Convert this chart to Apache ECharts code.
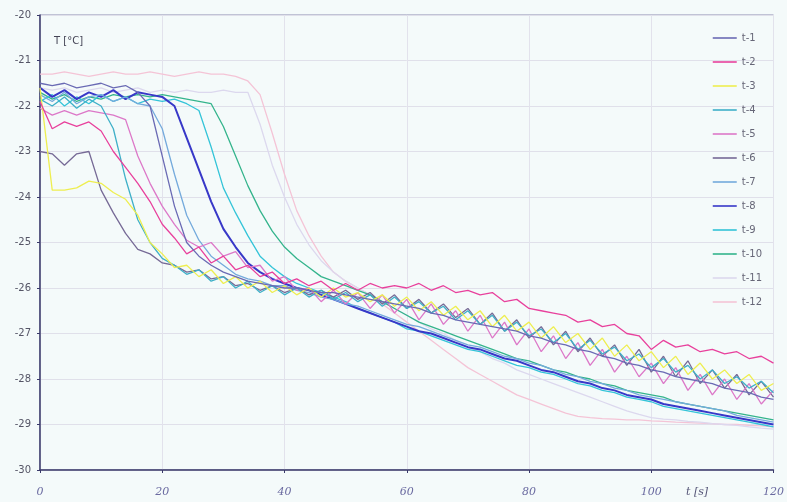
<!DOCTYPE html>
<html>
<head>
<meta charset="utf-8">
<script src="https://cdn.jsdelivr.net/npm/echarts/dist/echarts.min.js"></script>
<style>html,body{margin:0;padding:0;background:#f4fafa;}#c{width:787px;height:502px;}</style>
</head>
<body>
<div id="c"></div>
<script>
// time axis (s)
var time = [];
for (var k = 0; k <= 120; k += 2) time.push(k);

var seriesNames = ['t-1','t-2','t-3','t-4','t-5','t-6','t-7','t-8','t-9','t-10','t-11','t-12'];
var xTicks = [0, 20, 40, 60, 80, 100, 120];
var yTicks = [-30, -29, -28, -27, -26, -25, -24, -23, -22, -21, -20];

var t1 = [-21.5,-21.55,-21.5,-21.6,-21.55,-21.5,-21.6,-21.55,-21.7,-22.0,-23.1,-24.2,-25.0,-25.3,-25.5,-25.65,-25.75,-25.85,-25.9,-25.95,-26.0,-26.0,-26.05,-26.1,-26.1,-26.15,-26.2,-26.25,-26.3,-26.35,-26.4,-26.45,-26.55,-26.6,-26.7,-26.75,-26.8,-26.85,-26.9,-26.95,-27.05,-27.1,-27.2,-27.25,-27.35,-27.4,-27.5,-27.55,-27.65,-27.7,-27.8,-27.85,-27.95,-28.0,-28.05,-28.1,-28.2,-28.25,-28.3,-28.4,-28.45];
var t2 = [-21.9,-22.5,-22.35,-22.45,-22.35,-22.55,-23.0,-23.35,-23.7,-24.1,-24.6,-24.9,-25.25,-25.1,-25.45,-25.3,-25.6,-25.5,-25.75,-25.65,-25.9,-25.8,-25.95,-25.85,-26.05,-25.9,-26.05,-25.9,-26.0,-25.95,-26.0,-25.9,-26.05,-25.95,-26.1,-26.05,-26.15,-26.1,-26.3,-26.25,-26.45,-26.5,-26.55,-26.6,-26.75,-26.7,-26.85,-26.8,-27.0,-27.05,-27.35,-27.15,-27.3,-27.25,-27.4,-27.35,-27.45,-27.4,-27.55,-27.5,-27.65];
var t3 = [-21.6,-23.85,-23.85,-23.8,-23.65,-23.7,-23.9,-24.05,-24.4,-25.0,-25.25,-25.55,-25.5,-25.75,-25.6,-25.9,-25.75,-26.0,-25.85,-26.1,-25.95,-26.15,-26.0,-26.2,-26.0,-26.2,-26.1,-26.3,-26.15,-26.4,-26.2,-26.5,-26.3,-26.6,-26.4,-26.7,-26.5,-26.85,-26.6,-26.95,-26.75,-27.1,-26.85,-27.2,-27.0,-27.35,-27.1,-27.5,-27.25,-27.6,-27.4,-27.75,-27.5,-27.9,-27.65,-28.0,-27.8,-28.1,-27.9,-28.25,-28.1];
var t4 = [-21.85,-22.0,-21.8,-22.05,-21.85,-22.0,-22.5,-23.6,-24.5,-25.0,-25.35,-25.5,-25.7,-25.6,-25.85,-25.75,-26.0,-25.85,-26.1,-25.95,-26.15,-26.0,-26.2,-26.05,-26.25,-26.1,-26.3,-26.15,-26.4,-26.2,-26.45,-26.3,-26.55,-26.4,-26.7,-26.5,-26.8,-26.6,-26.95,-26.75,-27.05,-26.9,-27.2,-27.0,-27.35,-27.15,-27.45,-27.3,-27.6,-27.45,-27.75,-27.55,-27.85,-27.7,-28.0,-27.8,-28.1,-27.95,-28.2,-28.05,-28.3];
var t5 = [-22.05,-22.2,-22.1,-22.2,-22.1,-22.15,-22.2,-22.3,-23.1,-23.7,-24.2,-24.6,-24.95,-25.1,-25.0,-25.3,-25.2,-25.55,-25.5,-25.85,-25.75,-26.05,-26.0,-26.3,-26.05,-26.35,-26.1,-26.45,-26.15,-26.55,-26.25,-26.7,-26.35,-26.8,-26.5,-26.95,-26.6,-27.1,-26.75,-27.25,-26.9,-27.4,-27.05,-27.55,-27.2,-27.7,-27.35,-27.85,-27.5,-27.95,-27.65,-28.1,-27.75,-28.25,-27.9,-28.35,-28.0,-28.45,-28.1,-28.55,-28.25];
var t6 = [-23.0,-23.05,-23.3,-23.05,-23.0,-23.85,-24.35,-24.8,-25.15,-25.25,-25.45,-25.5,-25.65,-25.6,-25.8,-25.75,-25.95,-25.9,-26.05,-25.95,-26.1,-26.0,-26.15,-26.05,-26.2,-26.05,-26.25,-26.1,-26.35,-26.15,-26.45,-26.25,-26.55,-26.35,-26.65,-26.45,-26.8,-26.55,-26.95,-26.7,-27.1,-26.85,-27.25,-26.95,-27.4,-27.1,-27.5,-27.25,-27.7,-27.35,-27.85,-27.5,-27.95,-27.6,-28.1,-27.8,-28.2,-27.9,-28.35,-28.05,-28.4];
var t7 = [-21.75,-21.9,-21.7,-21.95,-21.8,-21.75,-21.9,-21.8,-21.95,-22.0,-22.5,-23.5,-24.4,-24.95,-25.3,-25.5,-25.7,-25.8,-25.85,-25.95,-25.95,-26.05,-26.1,-26.2,-26.25,-26.35,-26.4,-26.5,-26.6,-26.7,-26.8,-26.85,-26.95,-27.05,-27.15,-27.25,-27.3,-27.4,-27.5,-27.55,-27.65,-27.7,-27.8,-27.9,-27.95,-28.05,-28.1,-28.2,-28.25,-28.35,-28.4,-28.45,-28.5,-28.55,-28.6,-28.65,-28.7,-28.8,-28.85,-28.9,-28.95];
var t8 = [-21.6,-21.8,-21.65,-21.85,-21.7,-21.8,-21.65,-21.85,-21.7,-21.75,-21.8,-22.0,-22.7,-23.4,-24.1,-24.7,-25.1,-25.45,-25.65,-25.8,-25.9,-26.0,-26.05,-26.15,-26.25,-26.35,-26.45,-26.55,-26.65,-26.75,-26.85,-26.95,-27.0,-27.1,-27.2,-27.3,-27.35,-27.45,-27.55,-27.6,-27.7,-27.8,-27.85,-27.95,-28.05,-28.1,-28.2,-28.25,-28.35,-28.4,-28.45,-28.55,-28.6,-28.65,-28.7,-28.75,-28.8,-28.85,-28.9,-28.95,-29.0];
var t9 = [-21.9,-21.75,-22.0,-21.8,-21.95,-21.75,-21.9,-21.8,-21.95,-21.85,-21.9,-21.85,-21.95,-22.1,-22.9,-23.8,-24.35,-24.85,-25.3,-25.55,-25.75,-25.9,-26.0,-26.1,-26.2,-26.3,-26.45,-26.55,-26.65,-26.75,-26.9,-26.95,-27.05,-27.15,-27.25,-27.35,-27.4,-27.5,-27.6,-27.7,-27.75,-27.85,-27.9,-28.0,-28.1,-28.15,-28.25,-28.3,-28.4,-28.45,-28.5,-28.6,-28.65,-28.7,-28.75,-28.8,-28.85,-28.9,-28.95,-29.0,-29.05];
var t10 = [-21.7,-21.85,-21.75,-21.9,-21.8,-21.85,-21.75,-21.8,-21.75,-21.8,-21.75,-21.8,-21.85,-21.9,-21.95,-22.45,-23.1,-23.75,-24.3,-24.75,-25.1,-25.35,-25.55,-25.75,-25.85,-25.95,-26.05,-26.15,-26.3,-26.45,-26.6,-26.75,-26.85,-26.95,-27.05,-27.15,-27.25,-27.35,-27.45,-27.55,-27.6,-27.7,-27.8,-27.85,-27.95,-28.0,-28.1,-28.15,-28.25,-28.3,-28.35,-28.4,-28.5,-28.55,-28.6,-28.65,-28.7,-28.75,-28.8,-28.85,-28.9];
var t11 = [-21.6,-21.65,-21.6,-21.7,-21.65,-21.6,-21.7,-21.65,-21.6,-21.7,-21.65,-21.7,-21.65,-21.7,-21.7,-21.65,-21.7,-21.7,-22.4,-23.3,-24.0,-24.6,-25.05,-25.4,-25.65,-25.85,-26.0,-26.15,-26.3,-26.45,-26.6,-26.75,-26.9,-27.0,-27.15,-27.3,-27.4,-27.55,-27.65,-27.8,-27.9,-28.0,-28.1,-28.2,-28.3,-28.4,-28.5,-28.6,-28.7,-28.78,-28.85,-28.88,-28.9,-28.93,-28.95,-28.98,-29.0,-29.02,-29.05,-29.08,-29.1];
var t12 = [-21.3,-21.3,-21.25,-21.3,-21.35,-21.3,-21.25,-21.3,-21.3,-21.25,-21.3,-21.35,-21.3,-21.25,-21.3,-21.3,-21.35,-21.45,-21.75,-22.6,-23.5,-24.3,-24.85,-25.3,-25.65,-25.85,-26.0,-26.15,-26.35,-26.55,-26.75,-26.95,-27.15,-27.35,-27.55,-27.75,-27.9,-28.05,-28.2,-28.35,-28.45,-28.55,-28.65,-28.75,-28.82,-28.85,-28.87,-28.88,-28.9,-28.9,-28.92,-28.93,-28.95,-28.96,-28.97,-28.98,-29.0,-29.0,-29.02,-29.03,-29.05];

var values = [t1,t2,t3,t4,t5,t6,t7,t8,t9,t10,t11,t12];
var colors = ['#6a6ab4','#e8409c','#eeee50','#3fb0c8','#dc78c8','#766a96','#74aadc','#3838c8','#34c4d8','#34b48c','#dcd8ee','#f4c4d6'];
var widths = [1.3,1.3,1.3,1.3,1.3,1.3,1.3,2,1.3,1.3,1.3,1.3];

var chart = echarts.init(document.getElementById('c'));
var series = seriesNames.map(function(n, si){
  return {
    name: n, type: 'line', symbol: 'none', smooth: false,
    lineStyle: {color: colors[si], width: widths[si]},
    itemStyle: {color: colors[si]},
    data: time.map(function(t, i){ return [t, values[si][i]]; }),
    z: 2 + (11 - si)
  };
});

chart.setOption({
  backgroundColor: '#f4fafa',
  animation: false,
  grid: {left: 40, right: 7, top: 15, bottom: 32, show: true, borderColor: '#8c8cb0', borderWidth: 1, backgroundColor: 'transparent'},
  xAxis: {
    type: 'value', min: xTicks[0], max: xTicks[xTicks.length-1], interval: 20,
    axisLine: {show: true, onZero: false, lineStyle: {color: '#3a3a6a', width: 1.5}},
    axisTick: {show: true, inside: false, length: 3, lineStyle: {color: '#3a3a6a'}},
    axisLabel: {color: '#6a6aa0', fontSize: 11, fontStyle: 'italic', fontFamily: 'DejaVu Serif', margin: 17},
    splitLine: {show: true, lineStyle: {color: '#e2e2ec', width: 1}}
  },
  yAxis: {
    type: 'value', min: yTicks[0], max: yTicks[yTicks.length-1], interval: 1,
    axisLine: {show: true, onZero: false, lineStyle: {color: '#3a3a6a', width: 1.5}},
    axisTick: {show: true, length: 3, lineStyle: {color: '#3a3a6a'}},
    axisLabel: {color: '#555566', fontSize: 10, fontFamily: 'DejaVu Sans', margin: 9},
    splitLine: {show: true, lineStyle: {color: '#e0e0ea', width: 1}}
  },
  legend: {
    orient: 'vertical', right: 20, top: 28, itemGap: 14, itemWidth: 24, itemHeight: 10,
    icon: 'path://M0,0 L24,0 L24,1.6 L0,1.6 Z',
    data: seriesNames,
    textStyle: {color: '#666677', fontSize: 10, fontFamily: 'DejaVu Sans'}
  },
  graphic: [
    {type: 'text', left: 54, top: 36, style: {text: 'T [°C]', fill: '#444455', font: '10px DejaVu Sans'}},
    {type: 'text', left: 686, top: 487, style: {text: 't [s]', fill: '#555577', font: 'italic 11px DejaVu Serif'}}
  ],
  series: series
});
</script>
</body>
</html>
